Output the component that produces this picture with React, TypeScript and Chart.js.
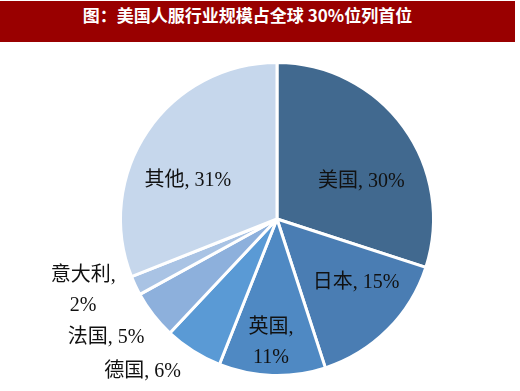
import React, { useEffect, useRef } from "react";
import { Chart, registerables } from "chart.js";

Chart.register(...registerables);

const titleText = "图：美国人服行业规模占全球 30%位列首位";
const categories = ["美国", "日本", "英国", "德国", "法国", "意大利", "其他"];
const shares = [30, 15, 11, 6, 5, 2, 31];
const sliceColors = ["#41698f", "#4a7db3", "#4f89c3", "#5a9ad5", "#8db0dc", "#a9c3e4", "#c6d7ec"];
// label lines per slice
const labelLines = [
  ["美国, 30%"],
  ["日本, 15%"],
  ["英国,", "11%"],
  ["德国, 6%"],
  ["法国, 5%"],
  ["意大利,", "2%"],
  ["其他, 31%"],
];
// placement: angular nudge from slice mid-angle (deg) and distance as fraction of radius
const labelNudge = [12, -6, 1, 9, 3, 5, -11];
const labelDist = [0.59, 0.65, 0.79, 1.3, 1.33, 1.32, 0.62];

const labelPlugin = {
  id: "sliceLabels",
  afterDatasetsDraw(chart: any) {
    const ctx = chart.ctx;
    const meta = chart.getDatasetMeta(0);
    ctx.save();
    ctx.fillStyle = "#111";
    ctx.font = "20px 'Liberation Serif', 'Noto Sans CJK SC', serif";
    ctx.textAlign = "center";
    ctx.textBaseline = "middle";
    meta.data.forEach((arc: any, i: number) => {
      const p = arc.getProps(["x", "y", "startAngle", "endAngle", "outerRadius"], true);
      const mid = (p.startAngle + p.endAngle) / 2 + (labelNudge[i] * Math.PI) / 180;
      const d = p.outerRadius * labelDist[i];
      const cx = p.x + Math.cos(mid) * d;
      const cy = p.y + Math.sin(mid) * d;
      const lines = labelLines[i];
      const lh = 30;
      lines.forEach((ln, k) => {
        ctx.fillText(ln, cx, cy + (k - (lines.length - 1) / 2) * lh);
      });
    });
    ctx.restore();
  },
};

export default function App() {
  const ref = useRef<HTMLCanvasElement>(null);
  useEffect(() => {
    const chart = new Chart(ref.current as HTMLCanvasElement, {
      type: "pie",
      data: {
        labels: categories,
        datasets: [
          {
            data: shares,
            backgroundColor: sliceColors,
            borderColor: "#ffffff",
            borderWidth: 3,
          },
        ],
      },
      options: {
        animation: false,
        responsive: false,
        layout: { padding: { left: 119, right: 85, top: 61, bottom: 14 } },
        plugins: { legend: { display: false }, tooltip: { enabled: false }, title: { display: false } },
      },
      plugins: [labelPlugin],
    });
    return () => chart.destroy();
  }, []);
  return (
    <div style={{ position: "fixed", left: 0, top: 0, width: 520, height: 391, background: "#fff", overflow: "hidden" }}>
      <canvas ref={ref} width={520} height={391} style={{ position: "absolute", left: 0, top: 0 }} />
      <div
        style={{
          position: "absolute",
          left: 0,
          top: 1,
          width: 515,
          height: 41,
          background: "#990000",
          color: "#fff",
          fontFamily: "'Noto Sans CJK SC', sans-serif",
          fontWeight: "bold",
          fontSize: 17,
          lineHeight: "28px",
          textAlign: "center",
          paddingRight: 20,
          boxSizing: "border-box",
        }}
      >
        {titleText}
      </div>
    </div>
  );
}
